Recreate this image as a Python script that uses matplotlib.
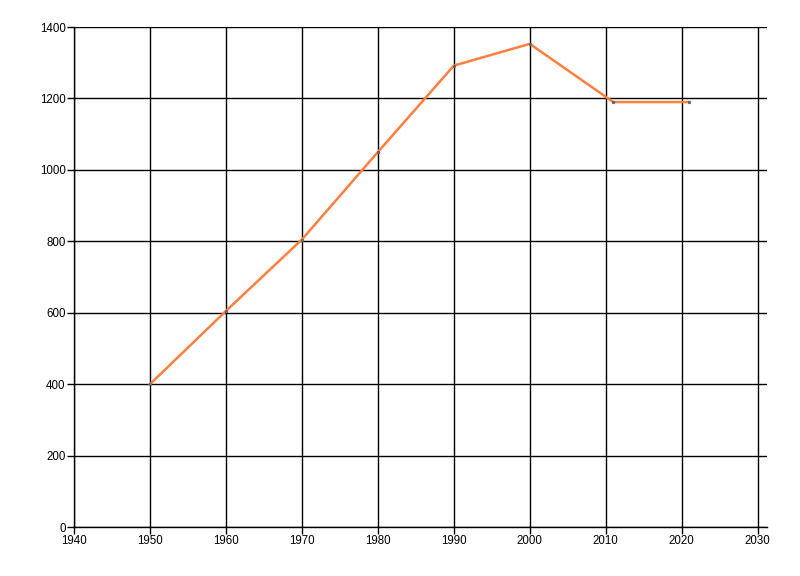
import matplotlib
matplotlib.use('Agg')
import matplotlib.pyplot as plt

years = [1950, 1960, 1970, 1980, 1990, 2000, 2011, 2021]
values = [400, 605, 805, 1050, 1292, 1353, 1190, 1190]

x_ticks = list(range(1940, 2031, 10))
y_ticks = list(range(0, 1401, 200))

plt.rcParams['font.family'] = ['Liberation Sans', 'DejaVu Sans']

fig = plt.figure(figsize=(8, 5.76), dpi=100)
ax = fig.add_axes([0.0925, 0.085, 0.866, 0.868])

ax.plot(years, values, color='#ff7f3f', lw=1.8, zorder=3,
        marker='o', markersize=1.4, markerfacecolor='#666666',
        markeredgecolor='#666666')

ax.set_xlim(1940, 2031.2)
ax.set_ylim(0, 1400)
ax.set_xticks(x_ticks)
ax.set_yticks(y_ticks)
ax.grid(True, color='black', lw=1)
for side in ['top', 'right']:
    ax.spines[side].set_visible(False)
for side in ['left', 'bottom']:
    ax.spines[side].set_linewidth(1)
ax.tick_params(length=5, width=1, labelsize=8.3, pad=1)

fig.savefig('out.png', dpi=100)
